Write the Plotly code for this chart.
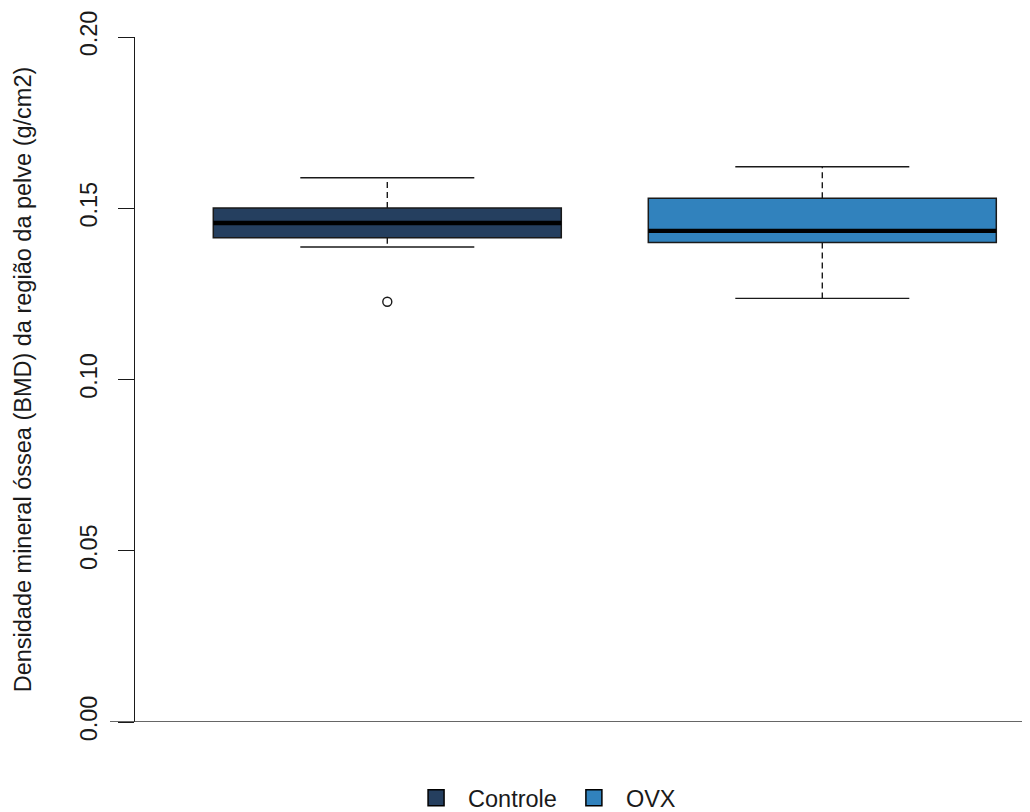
import plotly.graph_objects as go

# ---- data ----
categories = ["Controle", "OVX"]
colors = ["#253F5F", "#3182BD"]
q1 = [0.1414, 0.1400]
median = [0.1457, 0.1434]
q3 = [0.1501, 0.1529]
lower_whisker = [0.1387, 0.1237]
upper_whisker = [0.1589, 0.1621]
outliers = [[0.1227], []]
y_ticks = [0.00, 0.05, 0.10, 0.15, 0.20]
y_tick_labels = ["0.00", "0.05", "0.10", "0.15", "0.20"]
y_title = "Densidade mineral óssea (BMD) da região da pelve (g/cm2)"

BOX_W = 0.8
CAP_W = 0.4
FONT = "Liberation Sans, Arial, sans-serif"
EDGE = "#1a1a1a"

fig = go.Figure()

for i, cat in enumerate(categories):
    pos = i + 1
    # box body
    fig.add_trace(go.Box(
        x=[pos], q1=[q1[i]], median=[median[i]], q3=[q3[i]],
        lowerfence=[q1[i]], upperfence=[q3[i]],
        width=BOX_W, whiskerwidth=0,
        fillcolor=colors[i], line=dict(color=EDGE, width=1.5),
        boxpoints=False, showlegend=False, hoverinfo="skip", name=cat,
    ))
    # dashed whiskers
    for a, b in ((q3[i], upper_whisker[i]), (q1[i], lower_whisker[i])):
        fig.add_trace(go.Scatter(
            x=[pos, pos], y=[a, b], mode="lines",
            line=dict(color=EDGE, width=1.4, dash="6px,4px"),
            showlegend=False, hoverinfo="skip",
        ))
    # whisker caps
    for v in (upper_whisker[i], lower_whisker[i]):
        fig.add_trace(go.Scatter(
            x=[pos - CAP_W / 2, pos + CAP_W / 2], y=[v, v], mode="lines",
            line=dict(color=EDGE, width=1.4),
            showlegend=False, hoverinfo="skip",
        ))
    # thick median
    fig.add_trace(go.Scatter(
        x=[pos - BOX_W / 2, pos + BOX_W / 2], y=[median[i], median[i]],
        mode="lines", line=dict(color="black", width=4.3),
        showlegend=False, hoverinfo="skip",
    ))
    # outliers
    if outliers[i]:
        fig.add_trace(go.Scatter(
            x=[pos] * len(outliers[i]), y=outliers[i], mode="markers",
            marker=dict(symbol="circle-open", size=9, color=EDGE,
                        line=dict(width=1.4, color=EDGE)),
            showlegend=False, hoverinfo="skip",
        ))

# legend entries
for i, cat in enumerate(categories):
    fig.add_trace(go.Scatter(
        x=[None], y=[None], mode="markers", name=cat,
        marker=dict(symbol="square", size=16, color=colors[i],
                    line=dict(color="black", width=1.5)),
    ))

fig.update_layout(
    width=1030, height=812,
    margin=dict(l=127, r=8, t=29, b=98, autoexpand=False),
    plot_bgcolor="white", paper_bgcolor="white",
    font=dict(family=FONT, size=23.5, color="#1a1a1a"),
    showlegend=True,
    legend=dict(orientation="h", x=0.519, xref="container", xanchor="center",
                y=0.0, yref="container", yanchor="bottom",
                font=dict(size=23.5, family=FONT), itemwidth=54,
                traceorder="normal"),
    xaxis=dict(range=[0.42, 0.42 + 895 / 435], showgrid=False, zeroline=False,
               showticklabels=False, ticks="", showline=False, fixedrange=True,
               automargin=False),
    yaxis=dict(range=[0, 0.2], tickvals=y_ticks, ticktext=y_tick_labels,
               tickangle=-90, ticks="outside", ticklen=16, tickwidth=1.3,
               tickcolor="#1a1a1a", showline=True, linecolor="#1a1a1a",
               linewidth=1.3, showgrid=False, zeroline=False,
               automargin=False, ticklabelstandoff=11,
               tickfont=dict(size=23.5),
               title=dict(text=y_title, font=dict(size=23.5), standoff=38)),
)

# baseline at y = 0 extending slightly left of the axis and to the page edge
fig.add_shape(type="line", xref="paper", yref="y",
              x0=-25 / 895, x1=1.01, y0=0, y1=0,
              line=dict(color="#333333", width=1.6))

fig.write_html("out.html")
